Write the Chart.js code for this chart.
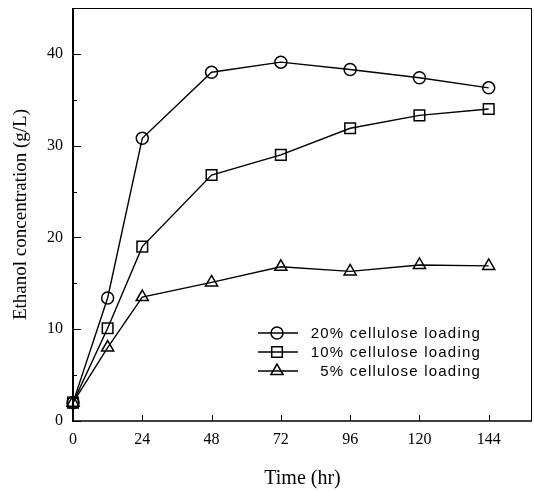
<!DOCTYPE html>
<html><head><meta charset="utf-8">
<script src="https://cdn.jsdelivr.net/npm/chart.js@4.4.0/dist/chart.umd.min.js"></script>
<style>html,body{margin:0;padding:0;background:#fff;} #wrap{width:534px;height:492px;}</style>
</head><body><div id="wrap"><canvas id="c" width="534" height="492"></canvas></div>
<script>
const timeHr = [0, 12, 24, 48, 72, 96, 120, 144];
const load20 = [2.0, 13.4, 30.8, 38.0, 39.1, 38.3, 37.4, 36.3];
const load10 = [2.0, 10.1, 19.0, 26.8, 29.0, 31.9, 33.3, 34.0];
const load5  = [2.0, 8.0, 13.5, 15.1, 16.8, 16.3, 17.0, 16.9];
const seriesLabels = ['20% cellulose loading', '10% cellulose loading', '5% cellulose loading'];
const seriesMarkers = ['circle', 'rect', 'triangle'];
const xTicks = [0, 24, 48, 72, 96, 120, 144];
const yMajorTicks = [0, 10, 20, 30, 40];
const yMinorTicks = [5, 15, 25, 35];
const xTitle = 'Time (hr)';
const yTitle = 'Ethanol concentration (g/L)';

const markerRadius = { circle: 6, rect: 7.5, triangle: 7 };

function pts(ys) { return timeHr.map((t, i) => ({ x: t, y: ys[i] })); }

const seriesValues = [load20, load10, load5];
const datasets = seriesValues.map((ys, i) => ({
  label: seriesLabels[i],
  data: pts(ys),
  borderColor: '#000',
  borderWidth: 1.4,
  backgroundColor: 'rgba(0,0,0,0)',
  pointStyle: seriesMarkers[i],
  pointRadius: markerRadius[seriesMarkers[i]],
  pointHoverRadius: markerRadius[seriesMarkers[i]],
  pointBorderWidth: 1.5,
  pointBorderColor: '#000',
  pointBackgroundColor: 'rgba(0,0,0,0)',
  tension: 0,
  fill: false,
  clip: false
}));

const framePlugin = {
  id: 'frame',
  beforeDatasetsDraw(chart) {
    const { ctx, chartArea: a, scales: { x, y } } = chart;
    ctx.save();
    ctx.strokeStyle = '#000';
    ctx.lineCap = 'butt';
    ctx.lineWidth = 1;
    ctx.beginPath();
    ctx.moveTo(a.left, a.top + 0.5); ctx.lineTo(a.right, a.top + 0.5);
    ctx.moveTo(a.right - 0.5, a.top); ctx.lineTo(a.right - 0.5, a.bottom);
    ctx.stroke();
    ctx.lineWidth = 1.5;
    ctx.beginPath();
    ctx.moveTo(a.left, a.bottom); ctx.lineTo(a.right, a.bottom);
    ctx.stroke();
    ctx.lineWidth = 2;
    ctx.beginPath();
    ctx.moveTo(a.left, a.top); ctx.lineTo(a.left, a.bottom + 1);
    ctx.stroke();
    ctx.lineWidth = 1;
    ctx.beginPath();
    yMajorTicks.forEach(v => { const p = Math.round(y.getPixelForValue(v)) + 0.5; ctx.moveTo(a.left, p); ctx.lineTo(a.left + 8, p); });
    yMinorTicks.forEach(v => { const p = Math.round(y.getPixelForValue(v)) + 0.5; ctx.moveTo(a.left, p); ctx.lineTo(a.left + 4, p); });
    xTicks.forEach(v => { const p = Math.round(x.getPixelForValue(v)) + 0.5; ctx.moveTo(p, a.bottom); ctx.lineTo(p, a.bottom - 6); });
    ctx.stroke();
    ctx.restore();
  }
};

const legendPlugin = {
  id: 'innerLegend',
  afterDraw(chart) {
    const { ctx } = chart;
    const rowY = [333, 352, 371];
    ctx.save();
    ctx.font = '15px "Liberation Sans", Arial, sans-serif';
    try { ctx.letterSpacing = '1.2px'; } catch (e) {}
    ctx.textAlign = 'right';
    ctx.textBaseline = 'middle';
    chart.data.datasets.forEach((ds, i) => {
      const yy = rowY[i];
      ctx.strokeStyle = '#000';
      ctx.lineWidth = 1.4;
      ctx.beginPath(); ctx.moveTo(258, yy); ctx.lineTo(298, yy); ctx.stroke();
      ctx.lineWidth = 1.5;
      ctx.fillStyle = 'rgba(0,0,0,0)';
      Chart.helpers.drawPoint(ctx, { pointStyle: ds.pointStyle, radius: ds.pointRadius, borderWidth: 1.5, rotation: 0 }, 277, yy);
      ctx.fillStyle = '#000';
      ctx.fillText(ds.label, 481, yy + 1);
    });
    ctx.restore();
  }
};

new Chart(document.getElementById('c'), {
  type: 'line',
  data: { datasets },
  plugins: [framePlugin, legendPlugin],
  options: {
    responsive: false,
    animation: false,
    devicePixelRatio: 1,
    layout: { autoPadding: false, padding: { top: 8, right: 2, left: 0, bottom: 0 } },
    plugins: { legend: { display: false }, tooltip: { enabled: false } },
    scales: {
      x: {
        type: 'linear', min: 0, max: 159,
        afterBuildTicks(s) { s.ticks = xTicks.map(v => ({ value: v })); },
        afterFit(s) { s.height = 71; s.paddingLeft = 0; s.paddingRight = 0; },
        grid: { display: false, drawTicks: false },
        border: { display: false },
        ticks: { color: '#000', padding: 9, maxRotation: 0, font: { family: '"Liberation Serif", "Times New Roman", serif', size: 16 } },
        title: { display: true, text: xTitle, color: '#000', padding: { top: 0, bottom: 1 }, font: { family: '"Liberation Serif", "Times New Roman", serif', size: 20 } }
      },
      y: {
        type: 'linear', min: 0, max: 45,
        afterBuildTicks(s) { s.ticks = yMajorTicks.map(v => ({ value: v })); },
        afterFit(s) { s.width = 73; s.paddingTop = 0; s.paddingBottom = 0; },
        grid: { display: false, drawTicks: false },
        border: { display: false },
        ticks: { color: '#000', padding: 10, font: { family: '"Liberation Serif", "Times New Roman", serif', size: 16 } },
        title: { display: true, text: yTitle, color: '#000', padding: { top: 10, bottom: 0 }, font: { family: '"Liberation Serif", "Times New Roman", serif', size: 19 } }
      }
    }
  }
});
</script>
</body></html>
